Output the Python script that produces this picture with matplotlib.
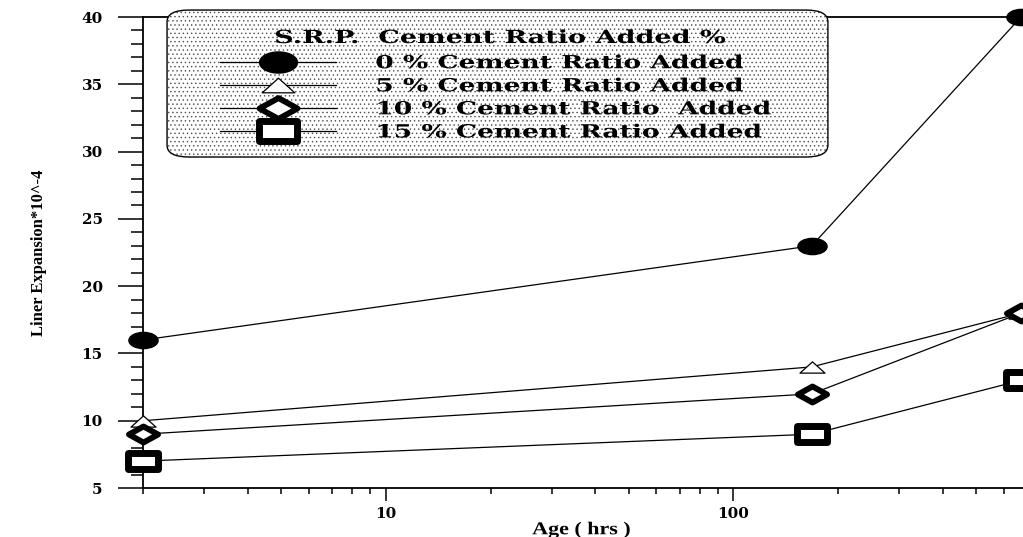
import matplotlib
matplotlib.use('Agg')
import matplotlib.pyplot as plt
from matplotlib.path import Path
from matplotlib.markers import MarkerStyle
from matplotlib.patches import FancyBboxPatch
from matplotlib.patheffects import AbstractPathEffect
from matplotlib.ticker import MultipleLocator, NullFormatter, FixedLocator, FixedFormatter
from matplotlib.transforms import Affine2D

plt.rcParams['hatch.linewidth'] = 0.5

# data
age = [2, 168, 672]
labels = ['0 % Cement Ratio Added', '5 % Cement Ratio Added',
          '10 % Cement Ratio  Added', '15 % Cement Ratio Added']
exp_0 = [16, 23, 40]
exp_5 = [10, 14, 18]
exp_10 = [9, 12, 18]
exp_15 = [7, 9, 13]
yticks = [5, 10, 15, 20, 25, 30, 35, 40]


class Stretch(AbstractPathEffect):
    # widen the glyphs (the original uses an expanded bold face)
    def __init__(self, sx, center=False):
        super().__init__()
        self.sx = sx
        self.center = center

    def draw_path(self, renderer, gc, tpath, affine, rgbFace=None):
        c = 0
        if self.center:
            ext = tpath.get_extents()
            c = (ext.x0 + ext.x1) / 2
        t = Affine2D().translate(-c, 0).scale(self.sx, 1).translate(c, 0) + affine
        renderer.draw_path(gc, tpath, t, rgbFace)


# wide markers
ellipse = Path.unit_circle().transformed(Affine2D().scale(1.8, 1.0))
tri = Path([(-1.0, -0.45), (1.0, -0.45), (0.0, 0.45), (-1.0, -0.45)],
           [Path.MOVETO, Path.LINETO, Path.LINETO, Path.CLOSEPOLY])
diam = Path([(-1.0, 0), (0, 0.55), (1.0, 0), (0, -0.55), (-1.0, 0)],
            [Path.MOVETO, Path.LINETO, Path.LINETO, Path.LINETO, Path.CLOSEPOLY])
rect = Path([(-1.0, -0.55), (1.0, -0.55), (1.0, 0.55), (-1.0, 0.55), (-1.0, -0.55)],
            [Path.MOVETO, Path.LINETO, Path.LINETO, Path.LINETO, Path.CLOSEPOLY])
diam_m = MarkerStyle(diam, joinstyle='miter')
rect_m = MarkerStyle(rect, joinstyle='miter')

fig = plt.figure(figsize=(10.23, 5.37), dpi=100)
ax = fig.add_axes([0.1398, 0.0912, 0.8602, 0.8771])

kw = dict(color='black', lw=0.9, clip_on=False, zorder=3)
ax.plot(age, exp_0, marker=ellipse, ms=21, mfc='black', mec='black', label=labels[0], **kw)
ax.plot(age, exp_5, marker=tri, ms=18, mfc='white', mec='black', mew=0.9, label=labels[1], **kw)
ax.plot(age, exp_10, marker=diam_m, ms=21, mfc='white', mec='black', mew=4.2, label=labels[2], **kw)
ax.plot(age, exp_15, marker=rect_m, ms=21, mfc='white', mec='black', mew=5.0, label=labels[3], **kw)

ax.set_xscale('log')
ax.set_xlim(2, 681)
ax.set_ylim(5, 40)
ax.xaxis.set_major_locator(FixedLocator([10, 100]))
ax.xaxis.set_major_formatter(FixedFormatter(['10', '100']))
ax.xaxis.set_minor_formatter(NullFormatter())
ax.yaxis.set_major_locator(FixedLocator(yticks))
ax.yaxis.set_minor_locator(MultipleLocator(1))

for s in ['left', 'bottom', 'top']:
    ax.spines[s].set_linewidth(1.3)
ax.spines['right'].set_visible(False)

ax.tick_params(axis='y', which='major', length=18, width=1.1, pad=11)
ax.tick_params(axis='y', which='minor', length=9, width=1.1)
ax.tick_params(axis='x', which='major', length=9, width=1.1, pad=5)
ax.tick_params(axis='x', which='minor', length=4.5, width=1.1)

for t in ax.get_xticklabels() + ax.get_yticklabels():
    t.set_family('DejaVu Serif')
    t.set_fontweight('bold')
    t.set_fontsize(11)

xl = ax.set_xlabel('Age ( hrs )', family='Liberation Serif', fontweight='bold', fontsize=13)
ax.xaxis.set_label_coords(0.498, -0.070)
xl.set_path_effects([Stretch(1.22, center=True)])
ax.set_ylabel('Liner Expansion*10^-4', family='Liberation Serif', fontweight='bold', fontsize=12)
ax.yaxis.set_label_coords(-0.109, 0.5)

# legend box with dotted fill
box = (0.0273, 0.7028)
bg = FancyBboxPatch(box, 0.751, 0.312, boxstyle='round,pad=0,rounding_size=0.025',
                    transform=ax.transAxes, facecolor='white', edgecolor='0.3', lw=0,
                    hatch='....', clip_on=False, zorder=4)
ax.add_patch(bg)
border = FancyBboxPatch(box, 0.751, 0.312, boxstyle='round,pad=0,rounding_size=0.025',
                        transform=ax.transAxes, facecolor='none', edgecolor='black', lw=1.0,
                        clip_on=False, zorder=4.5)
ax.add_patch(border)

lfont = {'family': 'DejaVu Serif', 'weight': 'bold', 'size': 13}
leg = ax.legend(loc='upper left', bbox_to_anchor=(0.0875, 0.921), frameon=False,
                prop=lfont, handlelength=6.4, handletextpad=2.2, labelspacing=0.28,
                borderpad=0, borderaxespad=0, numpoints=1, markerscale=1.3)
leg.set_zorder(5)
for t in leg.get_texts():
    t.set_path_effects([Stretch(1.47)])

ttl = ax.text(0.4057, 0.9554, 'S.R.P.  Cement Ratio Added %', transform=ax.transAxes,
              ha='center', va='center', zorder=6, **lfont)
ttl.set_path_effects([Stretch(1.5, center=True)])

fig.savefig('out.png', dpi=100)
